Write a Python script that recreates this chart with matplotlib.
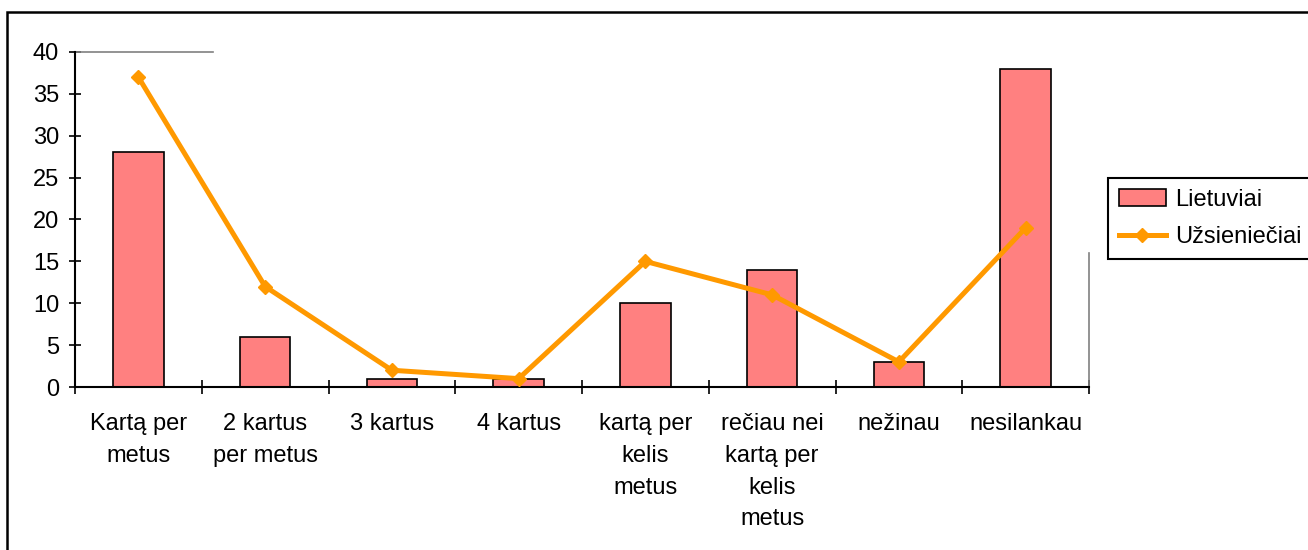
import matplotlib
matplotlib.use("Agg")
import matplotlib.pyplot as plt
from matplotlib.patches import Rectangle
from matplotlib.lines import Line2D
import numpy as np

plt.rcParams['font.family'] = ['Liberation Sans', 'DejaVu Sans']

categories = ["Kartą per\nmetus", "2 kartus\nper metus", "3 kartus", "4 kartus",
              "kartą per\nkelis\nmetus", "rečiau nei\nkartą per\nkelis\nmetus",
              "nežinau", "nesilankau"]
lietuviai = [28, 6, 1, 1, 10, 14, 3, 38]
uzsienieciai = [37, 12, 2, 1, 15, 11, 3, 19]
yticks = [0, 5, 10, 15, 20, 25, 30, 35, 40]

W, H = 1308, 550
fig = plt.figure(figsize=(W / 100, H / 100), dpi=100)

# outer chart border
fig.patches.append(Rectangle((7 / W, -0.1), 1.2, 1 - 12 / H + 0.1, transform=fig.transFigure,
                             fill=False, edgecolor='black', linewidth=1.8, zorder=0))

ax = fig.add_axes([75 / W, 1 - 387 / H, (1089 - 75) / W, (387 - 52) / H])
x = np.arange(len(categories))
bars = ax.bar(x, lietuviai, width=0.4, color='#FF8080', edgecolor='black', linewidth=1.2,
              label='Lietuviai', zorder=2)
line, = ax.plot(x, uzsienieciai, color='#FF9900', linewidth=3.6, marker='D', markersize=7,
                label='Užsieniečiai', zorder=3)

ax.set_xlim(-0.5, len(categories) - 0.5)
ax.set_ylim(0, 40)
ax.set_yticks(yticks)
ax.tick_params(axis='y', direction='inout', length=9, width=1.2, labelsize=17, pad=7)
ax.set_xticks(np.arange(len(categories) + 1) - 0.5)
ax.set_xticklabels([])
ax.set_xticks(x, minor=True)
ax.set_xticklabels(categories, minor=True, fontsize=17, linespacing=1.57, va='top')
ax.tick_params(axis='x', which='major', direction='inout', length=10, width=1.2)
ax.tick_params(axis='x', which='minor', length=0, pad=19)
for s in ['top', 'right']:
    ax.spines[s].set_visible(False)
for s in ['left', 'bottom']:
    ax.spines[s].set_linewidth(1.5)

# gray remnants of plot-area border
ax.add_line(Line2D([0, (213 - 75) / (1089 - 75)], [1, 1], transform=ax.transAxes,
                   color='#808080', linewidth=1.2, clip_on=False))
ax.add_line(Line2D([1, 1], [0, (387 - 253) / (387 - 52)], transform=ax.transAxes,
                   color='#808080', linewidth=1.2, clip_on=False))

leg = fig.legend([bars, line], ['Lietuviai', 'Užsieniečiai'],
                 loc='upper left', bbox_to_anchor=(1108 / W, 1 - 178 / H), fontsize=17,
                 frameon=True, fancybox=False, edgecolor='black', framealpha=1,
                 handlelength=2.0, handletextpad=0.38, borderpad=0.45, labelspacing=0.65,
                 borderaxespad=0)
leg.get_frame().set_linewidth(1.5)

fig.savefig("out.png", dpi=100)
